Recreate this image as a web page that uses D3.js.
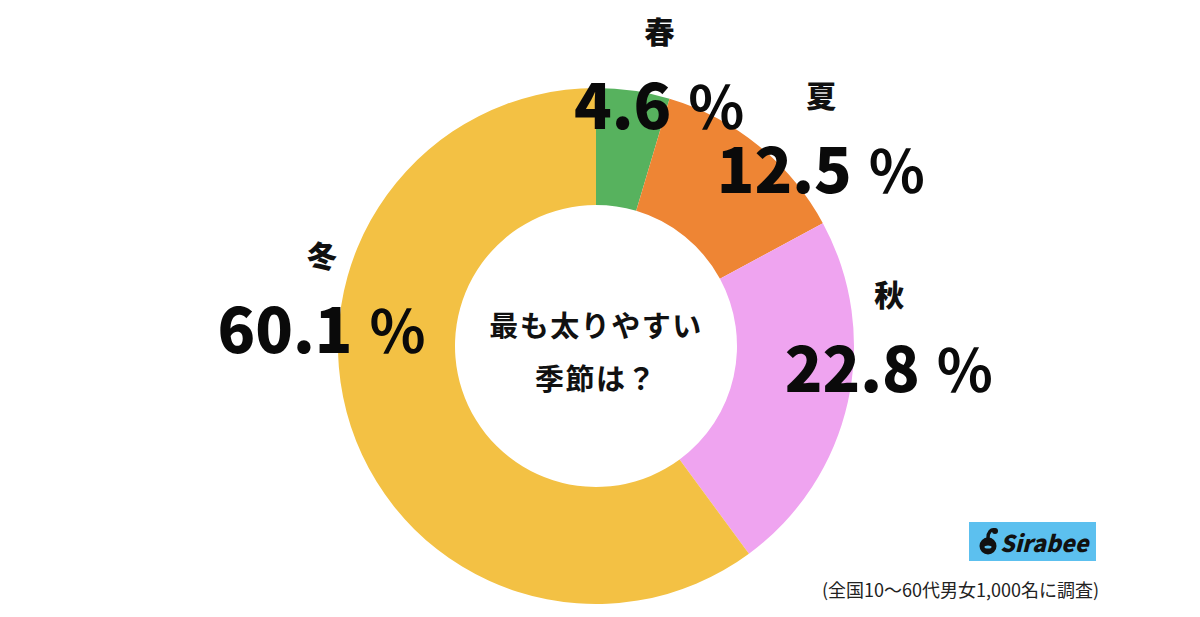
<!DOCTYPE html>
<html>
<head>
<meta charset="utf-8">
<script src="https://cdn.jsdelivr.net/npm/d3@7"></script>
<style>
  html, body { margin: 0; padding: 0; background: #fff; }
  svg { display: block; }
  text { font-family: "Noto Sans CJK JP", "Noto Sans", sans-serif; }
</style>
</head>
<body>
<svg id="chart"></svg>
<script>
// data
var seasons = ["春", "夏", "秋", "冬"];
var shares = [4.6, 12.5, 22.8, 60.1];
var colors = ["#57b25e", "#ee8534", "#efa4f0", "#f3c144"];
var centerLines = ["最も太りやすい", "季節は？"];
var footnote = "(全国10～60代男女1,000名に調査)";

// hand-placed label offsets (from the slice centroid at labelR)
var labelNudge = [[29, 20], [74, 33], [59, -6], [-46, -68]];

var W = 1200, H = 617;
var cx = 596, cy = 346, outerR = 258, innerR = 141, labelR = 240;

var svg = d3.select("#chart").attr("width", W).attr("height", H);

var rows = seasons.map(function(s, i) {
	return { name: s, value: shares[i], color: colors[i], nudge: labelNudge[i] };
});

var pie = d3.pie()
	.sort(null)
	.value(function(d) { return d.value; });

var arc = d3.arc()
	.innerRadius(innerR)
	.outerRadius(outerR);

var labelArc = d3.arc()
	.innerRadius(labelR)
	.outerRadius(labelR);

var g = svg.append("g")
	.attr("transform", "translate(" + cx + "," + cy + ")");

g.selectAll("path.slice")
	.data(pie(rows))
	.enter().append("path")
	.attr("class", "slice")
	.attr("d", arc)
	.attr("fill", function(d) { return d.data.color; });

// centre question
g.selectAll("text.center")
	.data(centerLines)
	.enter().append("text")
	.attr("class", "center")
	.attr("x", 0)
	.attr("y", function(d, i) { return -9 + i * 53; })
	.attr("text-anchor", "middle")
	.attr("font-size", 29)
	.attr("font-weight", 700)
	.attr("letter-spacing", 1.5)
	.attr("fill", "#111")
	.text(function(d) { return d; });

// slice labels
var lab = g.selectAll("g.label")
	.data(pie(rows))
	.enter().append("g")
	.attr("class", "label")
	.attr("transform", function(d) {
		var c = labelArc.centroid(d);
		return "translate(" + (c[0] + d.data.nudge[0]) + "," + (c[1] + d.data.nudge[1]) + ")";
	});

lab.append("text")
	.attr("text-anchor", "middle")
	.attr("y", -86)
	.attr("font-size", 30)
	.attr("font-weight", 900)
	.attr("fill", "#111")
	.text(function(d) { return d.data.name; });

var num = lab.append("text")
	.attr("text-anchor", "middle")
	.attr("y", 0)
	.attr("fill", "#0a0a0a");

num.append("tspan")
	.attr("font-size", 62)
	.attr("font-weight", 900)
	.text(function(d) { return d.data.value.toFixed(1); });

num.append("tspan")
	.attr("font-size", 58)
	.attr("font-weight", 700)
	.attr("dx", 16)
	.text("％");

// Sirabee badge
var logo = svg.append("g").attr("transform", "translate(969,522)");
logo.append("rect")
	.attr("width", 127).attr("height", 39)
	.attr("fill", "#5cc0ef");
logo.append("circle")
	.attr("cx", 19).attr("cy", 24).attr("r", 8.5)
	.attr("fill", "#111");
logo.append("path")
	.attr("d", "M19 16 C19 10 22 7 26 8")
	.attr("stroke", "#111").attr("stroke-width", 3.5).attr("fill", "none");
logo.append("circle")
	.attr("cx", 26).attr("cy", 9).attr("r", 3)
	.attr("fill", "#111");
logo.append("ellipse")
	.attr("cx", 19).attr("cy", 25).attr("rx", 3.5).attr("ry", 1.5)
	.attr("fill", "#5cc0ef");
logo.append("text")
	.attr("x", 31).attr("y", 30)
	.attr("font-family", "Roboto, sans-serif")
	.attr("font-size", 23)
	.attr("font-weight", 900)
	.attr("font-style", "italic")
	.attr("fill", "#111")
	.text("Sirabee");

svg.append("text")
	.attr("x", 1099).attr("y", 597)
	.attr("text-anchor", "end")
	.attr("font-size", 18)
	.attr("fill", "#222")
	.text(footnote);
</script>
</body>
</html>
